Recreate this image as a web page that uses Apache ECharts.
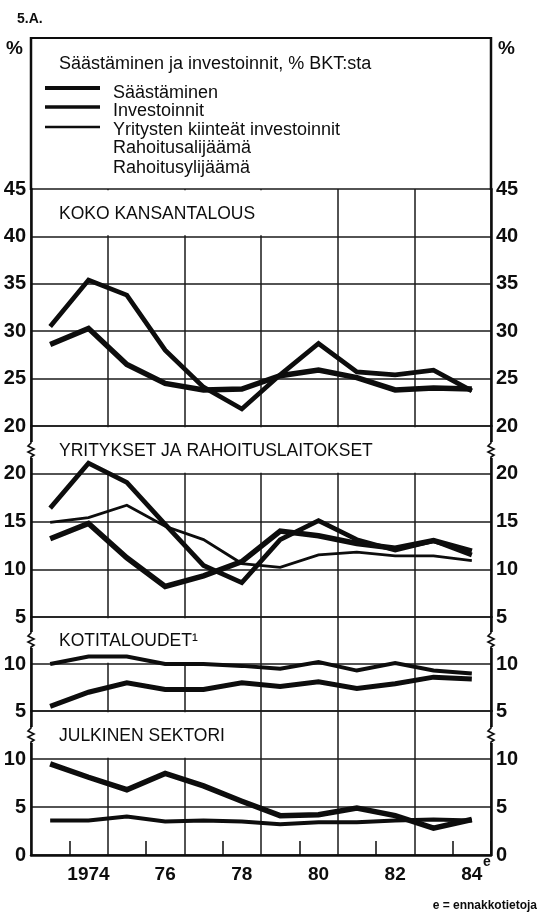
<!DOCTYPE html>
<html>
<head>
<meta charset="utf-8">
<script src="https://cdn.jsdelivr.net/npm/echarts@6/dist/echarts.min.js"></script>
<style>
  html, body { margin: 0; padding: 0; background: #fff; }
  #chart { width: 541px; height: 914px; }
</style>
</head>
<body>
<div id="chart"></div>
<script>
// vuodet ja akselin tekstit
const years = ['1973', '1974', '1975', '1976', '1977', '1978', '1979', '1980', '1981', '1982', '1983', '1984']
const yearLabels = ['', '1974', '', '76', '', '78', '', '80', '', '82', '', '84']

// koko kansantalous
const kokoSaasto = [28.6, 30.3, 26.5, 24.5, 23.8, 23.9, 25.3, 25.9, 25.1, 23.8, 24.0, 23.9]
const kokoInvest = [30.5, 35.4, 33.8, 28.0, 24.1, 21.8, 25.4, 28.7, 25.7, 25.4, 25.9, 23.7]
// yritykset ja rahoituslaitokset
const yritysSaasto = [13.2, 14.8, 11.2, 8.2, 9.3, 10.8, 14.0, 13.5, 12.7, 12.2, 13.0, 11.9]
const yritysInvest = [16.4, 21.1, 19.1, 14.7, 10.4, 8.6, 13.1, 15.1, 13.1, 12.0, 13.0, 11.5]
const yritysKiintea = [14.9, 15.4, 16.7, 14.5, 13.1, 10.6, 10.2, 11.5, 11.8, 11.4, 11.4, 10.9]
// kotitaloudet
const kotiSaasto = [5.5, 7.0, 8.0, 7.3, 7.3, 8.0, 7.6, 8.1, 7.4, 7.9, 8.6, 8.4]
const kotiInvest = [10.0, 10.8, 10.8, 10.0, 10.0, 9.8, 9.5, 10.2, 9.3, 10.1, 9.3, 9.0]
// julkinen sektori
const julkSaasto = [9.5, 8.1, 6.8, 8.5, 7.2, 5.6, 4.1, 4.2, 4.9, 4.1, 2.8, 3.7]
const julkInvest = [3.6, 3.6, 4.0, 3.5, 3.6, 3.5, 3.2, 3.4, 3.4, 3.6, 3.7, 3.6]

// paneelien asteikot
const panelNames = ['KOKO KANSANTALOUS', 'YRITYKSET JA RAHOITUSLAITOKSET', 'KOTITALOUDET¹', 'JULKINEN SEKTORI']
const panelMin = [20, 5, 5, 0]
const panelMax = [45, 25, 15, 15]

const ink = '#0d0d0d'
const font = '"Liberation Sans", Arial, Helvetica, sans-serif'
const gridLine = { color: '#1a1a1a', width: 1.5 }

const panelLayout = [
  { top: 189, height: 237 },
  { top: 426, height: 191 },
  { top: 617, height: 94 },
  { top: 711, height: 144 }
]
// label band: white box width per panel
const bandRight = [300, 420, 222, 240]

const chart = echarts.init(document.getElementById('chart'))

const grids = panelLayout.map(p => ({ left: 31, right: 50, top: p.top, height: p.height }))

const xAxes = panelLayout.map((p, i) => {
  const last = i === panelLayout.length - 1
  return {
    type: 'category',
    gridIndex: i,
    data: years,
    boundaryGap: true,
    axisLine: { show: last, onZero: false, lineStyle: { color: ink, width: 2.5 } },
    axisTick: {
      show: last,
      inside: true,
      length: 14,
      interval: (idx) => idx % 2 === 1,
      lineStyle: { color: ink, width: 1.5 }
    },
    axisLabel: {
      show: last,
      interval: 0,
      margin: 10,
      color: ink,
      fontSize: 19,
      fontWeight: 'bold',
      fontFamily: font,
      formatter: (v, idx) => yearLabels[idx]
    },
    splitLine: { show: true, interval: (idx) => idx % 2 === 0, lineStyle: gridLine }
  }
})

const yAxes = []
panelLayout.forEach((p, i) => {
  ;['left', 'right'].forEach(pos => {
    yAxes.push({
      type: 'value',
      gridIndex: i,
      position: pos,
      min: panelMin[i],
      max: panelMax[i],
      interval: 5,
      axisLine: { show: true, lineStyle: { color: ink, width: 2.5 } },
      axisTick: { show: false },
      axisLabel: {
        color: ink,
        fontSize: 20,
        fontWeight: 'bold',
        fontFamily: font,
        margin: 5,
        showMaxLabel: i === 0
      },
      splitLine: { show: pos === 'left', lineStyle: gridLine }
    })
  })
})

const mk = (name, data, gi, width) => ({
  name,
  type: 'line',
  xAxisIndex: gi,
  yAxisIndex: gi * 2,
  data,
  symbol: 'none',
  silent: true,
  z: 3,
  lineStyle: { color: ink, width, join: 'miter', cap: 'butt' }
})

const series = [
  mk('Säästäminen', kokoSaasto, 0, 5.5),
  mk('Investoinnit', kokoInvest, 0, 4.7),
  mk('Säästäminen', yritysSaasto, 1, 5.5),
  mk('Investoinnit', yritysInvest, 1, 4.7),
  mk('Yritysten kiinteät investoinnit', yritysKiintea, 1, 2.8),
  mk('Säästäminen', kotiSaasto, 2, 5),
  mk('Investoinnit', kotiInvest, 2, 4),
  mk('Säästäminen', julkSaasto, 3, 5.5),
  mk('Investoinnit', julkInvest, 3, 4)
]

const txt = (text, x, y, size, weight, align) => ({
  type: 'text', x, y, z: 20,
  style: { text, fill: ink, font: `${weight} ${size}px ${font}`, align: align || 'left', verticalAlign: 'middle' }
})
const seg = (x1, y1, x2, y2, w) => ({
  type: 'line', z: 20, shape: { x1, y1, x2, y2 }, style: { stroke: ink, lineWidth: w }
})

const graphic = []
// kehys selitteen ympärillä
graphic.push(seg(30, 38, 492, 38, 2))
graphic.push(seg(31, 37, 31, 190, 2.5))
graphic.push(seg(491, 37, 491, 190, 2.5))
graphic.push(txt('5.A.', 17, 19, 14, 'bold'))
graphic.push(txt('%', 6, 49, 19, 'bold'))
graphic.push(txt('%', 498, 49, 19, 'bold'))
graphic.push(txt('Säästäminen ja investoinnit, % BKT:sta', 59, 64, 18, 'normal'))
// selite
graphic.push(seg(45, 88, 100, 88, 4))
graphic.push(seg(45, 107, 100, 107, 3.4))
graphic.push(seg(45, 127, 100, 127, 2.6))
graphic.push(txt('Säästäminen', 113, 93, 18, 'normal'))
graphic.push(txt('Investoinnit', 113, 111, 18, 'normal'))
graphic.push(txt('Yritysten kiinteät investoinnit', 113, 130, 18, 'normal'))
graphic.push(txt('Rahoitusalijäämä', 113, 148, 18, 'normal'))
graphic.push(txt('Rahoitusylijäämä', 113, 168, 18, 'normal'))

// paneelien otsikkokaistat
const bandTops = [189, 426, 617, 711]
const bandBottoms = [236.4, 474, 664, 759]
panelNames.forEach((name, i) => {
  const t = bandTops[i], b = bandBottoms[i]
  graphic.push({
    type: 'rect', z: 1,
    shape: { x: 33, y: t + 1.2, width: bandRight[i] - 33, height: b - t - 2.4 },
    style: { fill: '#fff' }
  })
  graphic.push(txt(name, 59, (t + b) / 2 + 1, 17.5, 'normal'))
})

// katkosmerkit akseleilla
const breakY = [450, 640, 735]
breakY.forEach(cy => {
  ;[31, 491].forEach(x => {
    graphic.push({ type: 'rect', z: 21, shape: { x: x - 3, y: cy - 8, width: 6, height: 16 }, style: { fill: '#fff' } })
    graphic.push({
      type: 'polyline', z: 22,
      shape: { points: [[x, cy - 9], [x, cy - 7], [x - 3, cy - 4], [x + 3, cy - 1], [x - 3, cy + 2], [x + 3, cy + 5], [x, cy + 7], [x, cy + 9]] },
      style: { stroke: ink, lineWidth: 1.6, fill: null }
    })
  })
})

graphic.push(txt('e', 483, 862, 14, 'bold'))
graphic.push(txt('e = ennakkotietoja', 537, 906, 12, 'bold', 'right'))

chart.setOption({
  animation: false,
  backgroundColor: '#fff',
  grid: grids,
  xAxis: xAxes,
  yAxis: yAxes,
  series,
  graphic
})
</script>
</body>
</html>
